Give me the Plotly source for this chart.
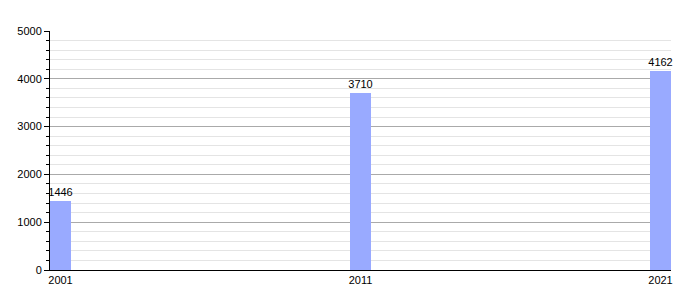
import plotly.graph_objects as go

years = [2001, 2011, 2021]
year_labels = ["2001", "2011", "2021"]
population = [1446, 3710, 4162]

bar_width = 0.7

fig = go.Figure()
fig.add_trace(go.Bar(
    x=years,
    y=population,
    width=bar_width,
    offset=0,
    marker=dict(color="#99aaff", line=dict(width=0)),
    text=[str(v) for v in population],
    textposition="outside",
    constraintext="none",
    textfont=dict(color="black", size=11, family="Liberation Sans, Arial, sans-serif"),
    cliponaxis=False,
    hoverinfo="x+y",
))

fig.update_layout(
    width=700, height=300,
    margin=dict(l=50, r=29, t=31, b=30),
    paper_bgcolor="white",
    plot_bgcolor="white",
    showlegend=False,
    font=dict(family="Liberation Sans, Arial, sans-serif", size=11, color="black"),
    bargap=0,
)
fig.update_xaxes(
    range=[years[0], years[-1] + bar_width],
    tickvals=[y + bar_width / 2 for y in years],
    ticktext=year_labels,
    showgrid=False,
    zeroline=False,
    showline=True,
    linecolor="black",
    linewidth=1,
    ticks="",
    tickfont=dict(size=11, color="black"),
)
fig.update_yaxes(
    range=[0, 5000],
    dtick=1000,
    showgrid=True,
    gridcolor="#aaaaaa",
    gridwidth=1,
    zeroline=False,
    showline=True,
    linecolor="black",
    linewidth=1,
    ticks="outside",
    ticklen=5,
    tickcolor="black",
    tickfont=dict(size=11, color="black"),
    minor=dict(dtick=200, showgrid=True, gridcolor="#e4e4e4", gridwidth=1,
               ticks="outside", ticklen=3, tickcolor="black"),
)

fig.write_html("out.html")
